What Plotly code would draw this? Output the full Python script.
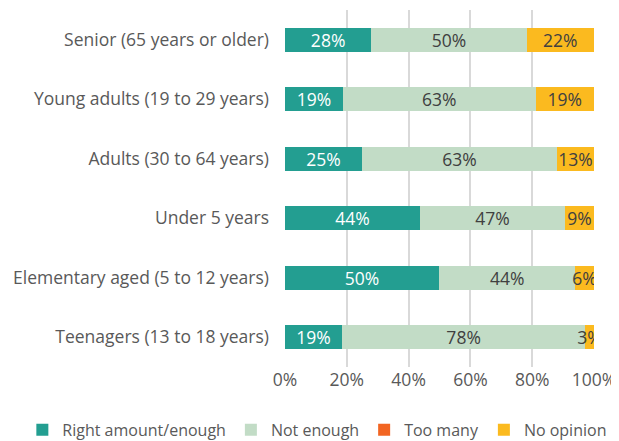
import plotly.graph_objects as go

groups = ["Senior (65 years or older)", "Young adults (19 to 29 years)", "Adults (30 to 64 years)",
          "Under 5 years", "Elementary aged (5 to 12 years)", "Teenagers (13 to 18 years)"]
right_amount = [27.9, 18.7, 24.9, 43.7, 49.9, 18.5]
not_enough = [50.3, 62.4, 63.1, 46.9, 44.0, 78.6]
too_many = [0, 0, 0, 0, 0, 0]
no_opinion = [21.8, 18.9, 12.0, 9.4, 6.1, 2.9]

right_lbl = ["28%", "19%", "25%", "44%", "50%", "19%"]
not_lbl = ["50%", "63%", "63%", "47%", "44%", "78%"]
no_lbl = ["22%", "19%", "13%", "9%", "6%", "3%"]

fnt = "Open Sans"
fs = 17.5
fig = go.Figure()
series = [
    ("Right amount/enough", right_amount, right_lbl, "#239e91", "white"),
    ("Not enough", not_enough, not_lbl, "#c2dcc6", "#404040"),
    ("Too many", too_many, None, "#f26522", "#404040"),
    ("No opinion", no_opinion, no_lbl, "#fbba1f", "#404040"),
]
for name, vals, lbls, col, tcol in series:
    fig.add_trace(go.Bar(
        y=groups, x=vals, name=name, orientation="h",
        marker=dict(color=col, line=dict(width=0)),
        text=lbls, textposition="inside" if lbls else "none",
        insidetextanchor="middle", textangle=0,
        textfont=dict(color=tcol, size=fs, family=fnt),
    ))

# page body has an 8px margin, so the figure is sized to fit the window
fig.update_layout(
    barmode="stack", bargap=0.59,
    width=611, height=433,
    margin=dict(l=277, r=25, t=2, b=74, autoexpand=False),
    plot_bgcolor="white", paper_bgcolor="white",
    font=dict(family=fnt, size=fs, color="#595959"),
    uniformtext=dict(minsize=fs, mode="show"),
    legend=dict(orientation="h", x=-0.85, xanchor="left",
                y=-0.176, yanchor="middle",
                font=dict(size=16, color="#595959"), traceorder="normal",
                itemwidth=30),
    xaxis=dict(range=[0, 100], dtick=20, ticksuffix="%", showgrid=True,
               gridcolor="#d9d9d9", gridwidth=1.5, zeroline=False, showline=False),
    yaxis=dict(autorange="reversed", ticklabelstandoff=15, showgrid=False, showline=False),
)

fig.write_html("out.html")
